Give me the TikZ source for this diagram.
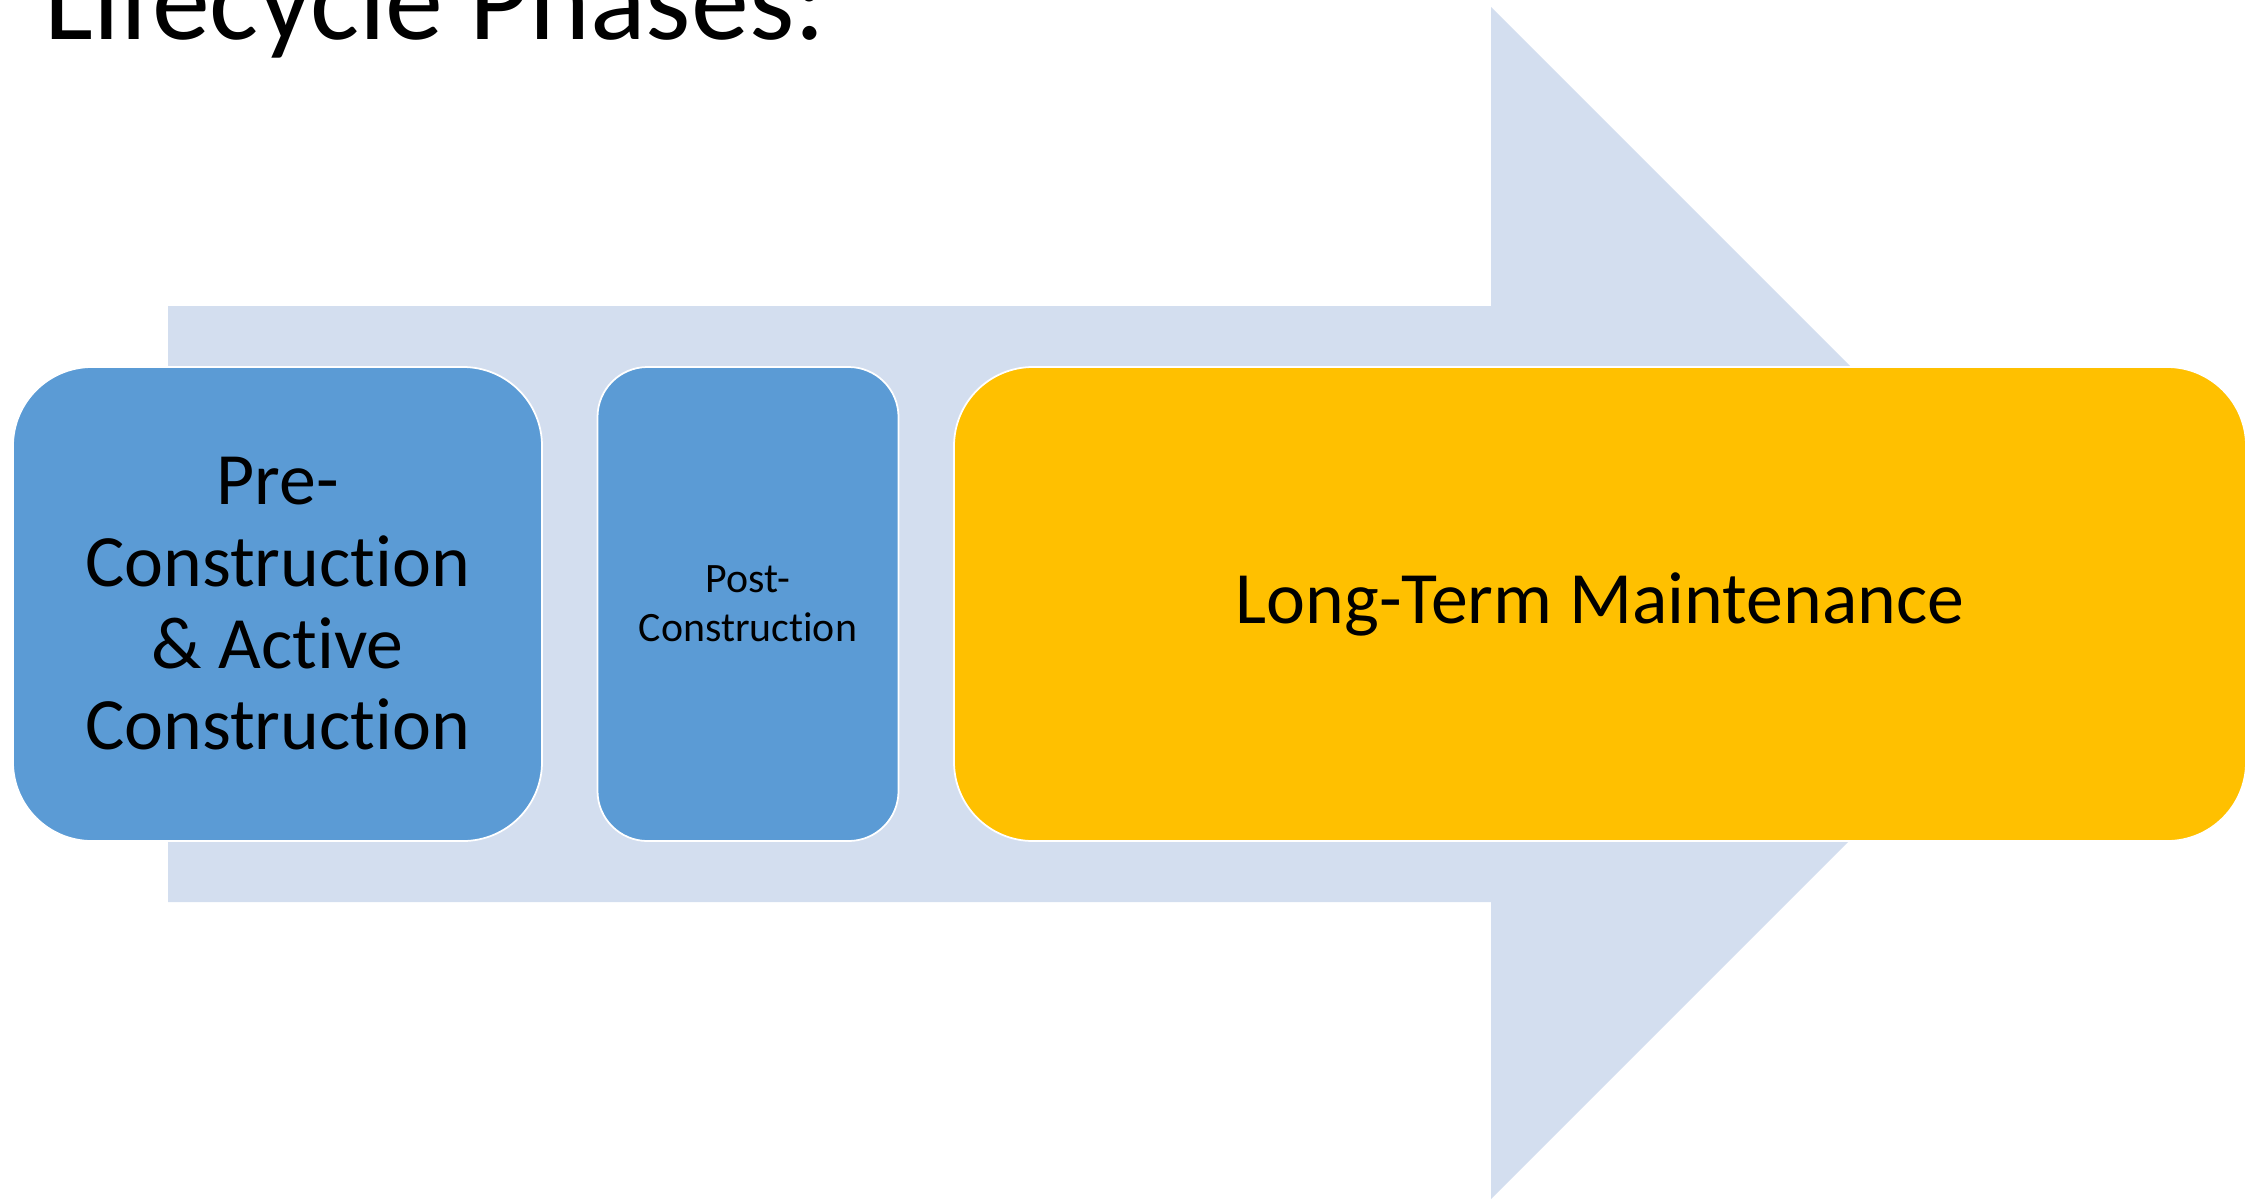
\documentclass[tikz,border=0pt]{standalone}
\usepackage{fontspec}
\setmainfont{Carlito}[Ligatures={NoCommon}]
\usetikzlibrary{positioning}
\definecolor{arrowbg}{RGB}{211,222,239}
\definecolor{phaseblue}{RGB}{91,155,213}
\definecolor{phasegold}{RGB}{255,192,0}
\tikzset{
  phase/.style={draw=white, line width=1pt, align=center, inner sep=0pt, outer sep=0pt,
    minimum height=94.8mm, text=black},
  bigtext/.style={font=\fontsize{42}{46.5}\selectfont},
  smalltext/.style={font=\fontsize{23.8}{27.8}\selectfont}
}
\begin{document}
\begin{tikzpicture}[x=0.2mm, y=-0.2mm, node distance=11.1mm]
    \useasboundingbox (0,0) rectangle (2255,1199);
    \clip (0,0) rectangle (2255,1199);
    % title
    \node [anchor=base west, inner sep=0pt, font=\fontsize{66}{78}\selectfont] (title) at (44,39) {Lifecycle Phases:};
    % background arrow
    \fill [arrowbg] (168,306) -- (1491,306) -- (1491,7) -- (2087,603)
      -- (1491,1199) -- (1491,902) -- (168,902) -- cycle;
    % place nodes
    \node [phase, bigtext, fill=phaseblue, minimum width=105.8mm, rounded corners=15.8mm] (pre) at (277.5,604)
      {Pre-\\Construction\\\& Active\\Construction};
    \node [phase, smalltext, fill=phaseblue, minimum width=60.2mm, rounded corners=10mm, right=of pre] (post)
      {Post-\\Construction};
    \node [phase, bigtext, fill=phasegold, minimum width=258.4mm, rounded corners=15.8mm, right=of post] (longterm)
      {Long-Term Maintenance};
  \end{tikzpicture}
\end{document}
